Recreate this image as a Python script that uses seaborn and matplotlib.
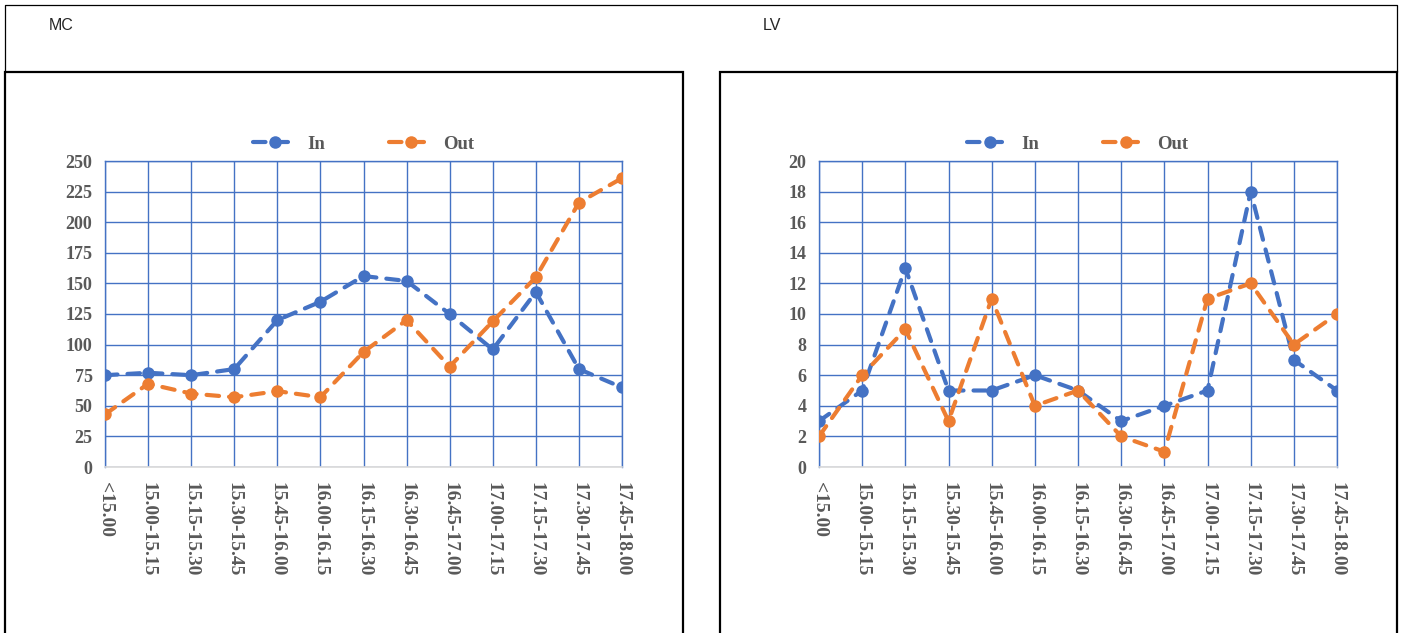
"""Arrivals (In) and departures (Out) per 15-min slot for MC and LV."""

import pandas as pd
import matplotlib
matplotlib.use("Agg")
import matplotlib.pyplot as plt
from matplotlib.patches import Rectangle
from matplotlib.lines import Line2D
import seaborn as sns

slots = ["<15.00", "15.00-15.15", "15.15-15.30", "15.30-15.45", "15.45-16.00",
         "16.00-16.15", "16.15-16.30", "16.30-16.45", "16.45-17.00",
         "17.00-17.15", "17.15-17.30", "17.30-17.45", "17.45-18.00"]

mc_in = [75, 77, 75, 80, 120, 135, 156, 152, 125, 96, 143, 80, 65]
mc_out = [43, 68, 60, 57, 62, 57, 94, 120, 82, 119, 155, 216, 236]
lv_in = [3, 5, 13, 5, 5, 6, 5, 3, 4, 5, 18, 7, 5]
lv_out = [2, 6, 9, 3, 11, 4, 5, 2, 1, 11, 12, 8, 10]

BLUE = "#4472C4"
ORANGE = "#ED7D31"
GREY = "#595959"
DASH = (3.0, 2.4)

sns.set_style("white")
plt.rcParams["font.family"] = ["Liberation Serif", "DejaVu Serif"]
plt.rcParams["font.weight"] = "bold"


def long_form(values_in, values_out):
    df = pd.DataFrame({"slot": slots * 2,
                       "count": values_in + values_out,
                       "dir": ["In"] * len(slots) + ["Out"] * len(slots)})
    return df


def draw_panel(ax, values_in, values_out, ymax, ystep):
    df = long_form(values_in, values_out)
    sns.lineplot(data=df, x="slot", y="count", hue="dir", style="dir",
                 palette={"In": BLUE, "Out": ORANGE},
                 dashes={"In": DASH, "Out": DASH},
                 markers={"In": "o", "Out": "o"},
                 markersize=9, markeredgewidth=0, linewidth=3,
                 dash_capstyle="round",
                 legend=False, ax=ax, zorder=3)

    ax.set_xlim(0, len(slots) - 1)
    ax.set_ylim(0, ymax)
    ax.set_yticks(range(0, ymax + 1, ystep))
    ax.set_xticks(range(len(slots)))
    ax.set_xticklabels(slots, rotation=-90, fontsize=14, color=GREY,
                       fontweight="bold")
    for lbl in ax.get_yticklabels():
        lbl.set_fontsize(13)
        lbl.set_color(GREY)
        lbl.set_fontweight("bold")
    ax.set_xlabel("")
    ax.set_ylabel("")

    ax.grid(True, color=BLUE, linewidth=1.0)
    ax.set_axisbelow(True)
    for side in ["left", "top", "right"]:
        ax.spines[side].set_color(BLUE)
        ax.spines[side].set_linewidth(1.0)
    ax.spines["bottom"].set_color("#D9D9D9")
    ax.spines["bottom"].set_linewidth(1.2)
    ax.tick_params(axis="x", length=4, width=1, color="#D9D9D9", pad=7)
    ax.tick_params(axis="y", length=0, pad=9)

    handles = [Line2D([], [], color=c, linewidth=3, dashes=DASH,
                      dash_capstyle="round",
                      marker="o", markersize=9, markeredgewidth=0)
               for c in (BLUE, ORANGE)]
    ax.legend(handles, ["In", "Out"], loc="center", bbox_to_anchor=(0.5, 1.055),
              ncol=2, frameon=False, handlelength=2.4, columnspacing=3.4,
              handletextpad=0.5, prop={"size": 13.5, "weight": "bold"},
              labelcolor=GREY)


fig = plt.figure(figsize=(14.04, 6.33), dpi=100)

ax_mc = fig.add_axes([105 / 1404, 1 - 467 / 633, 517 / 1404, 306 / 633])
ax_lv = fig.add_axes([819 / 1404, 1 - 467 / 633, 518 / 1404, 306 / 633])

draw_panel(ax_mc, mc_in, mc_out, 250, 25)
draw_panel(ax_lv, lv_in, lv_out, 20, 2)

# header outline (open at the bottom) and panel frames
W, H = 1404, 633
header_x = [5 / W, 5 / W, 1397 / W, 1397 / W]
header_y = [1 - 72 / H, 1 - 5 / H, 1 - 5 / H, 1 - 72 / H]
fig.add_artist(Line2D(header_x, header_y, color="black", linewidth=0.9,
                      transform=fig.transFigure))
fig.add_artist(Rectangle((5 / W, -0.2), 678 / W, 0.2 + 1 - 72 / H, fill=False,
                         edgecolor="black", linewidth=1.6,
                         transform=fig.transFigure))
fig.add_artist(Rectangle((720 / W, -0.2), 677 / W, 0.2 + 1 - 72 / H, fill=False,
                         edgecolor="black", linewidth=1.6,
                         transform=fig.transFigure))

fig.text(49 / W, 1 - 26 / H, "MC", fontsize=11.5, fontweight="normal",
         family=["Liberation Sans Narrow", "Liberation Sans"], va="center")
fig.text(763 / W, 1 - 26 / H, "LV", fontsize=11.5, fontweight="normal",
         family=["Liberation Sans Narrow", "Liberation Sans"], va="center")

fig.savefig("out.png", dpi=100)
